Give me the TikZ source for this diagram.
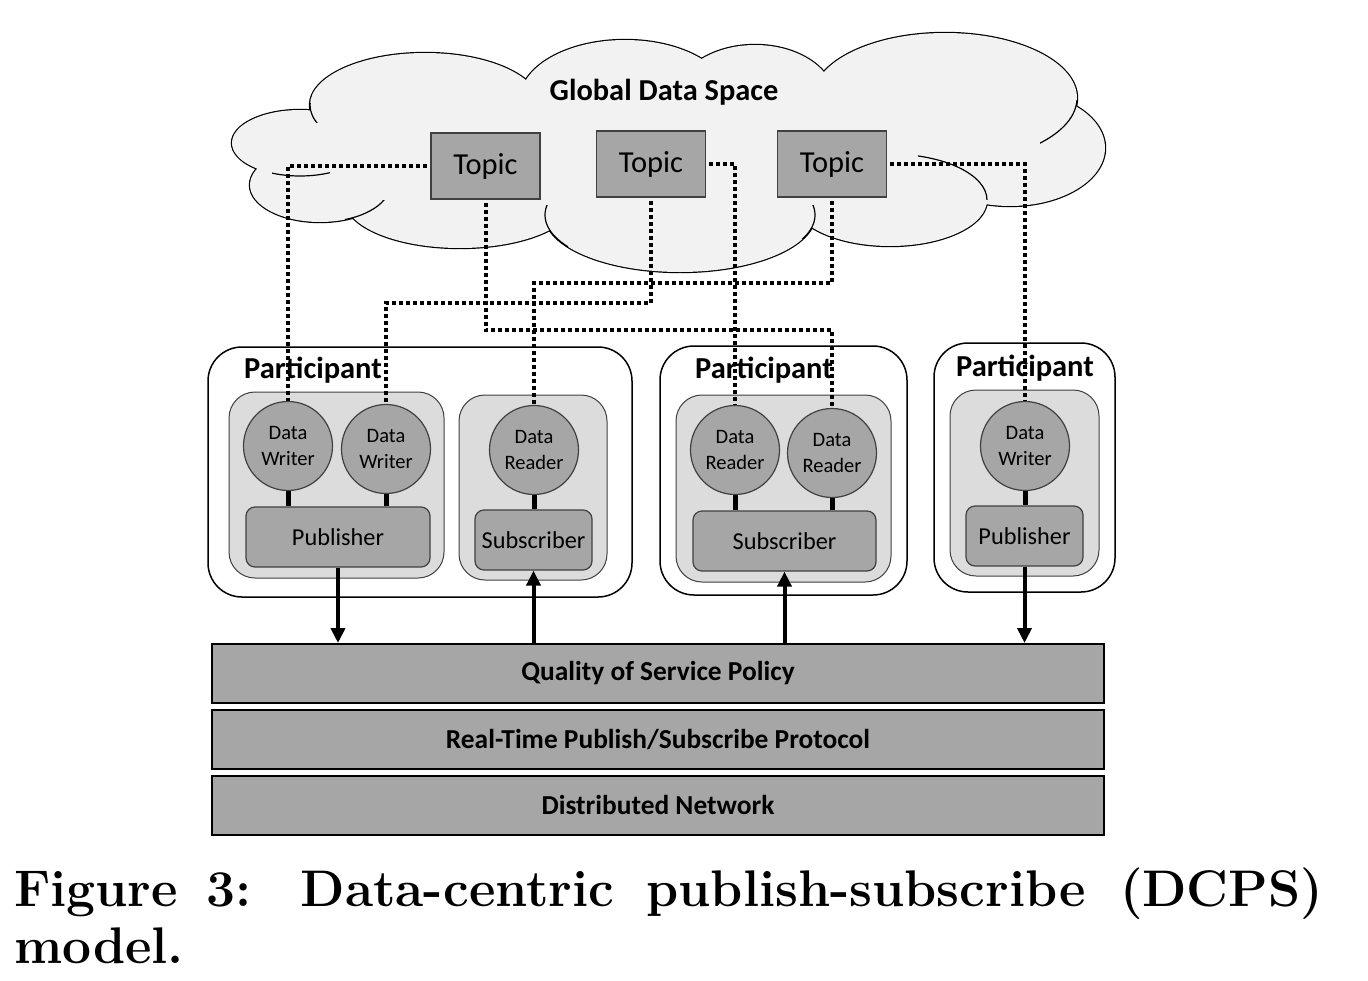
\documentclass[tikz,border=0pt]{standalone}
\usepackage{fontspec}
\setmainfont{Carlito}
\newfontfamily\capfont{Latin Modern Roman}
\usetikzlibrary{arrows.meta}
\definecolor{cloudfill}{HTML}{F2F2F2}
\definecolor{boxgray}{HTML}{A6A6A6}
\definecolor{groupgray}{HTML}{DCDCDC}
\definecolor{edgegray}{HTML}{404040}
\tikzset{
  topicbox/.style={draw=edgegray, line width=1.6pt, fill=boxgray, minimum width=109pt, minimum height=66pt, inner sep=0pt, font=\fontsize{30.5}{32}\selectfont},
  partbox/.style={draw=black, line width=1.5pt, fill=white, rounded corners=34pt, inner sep=0pt},
  groupbox/.style={draw=edgegray, line width=1pt, fill=groupgray, rounded corners=26pt, inner sep=0pt},
  entity/.style={circle, draw=edgegray, line width=1.2pt, fill=boxgray, minimum size=89pt, inner sep=0pt, align=center, font=\fontsize{20.5}{26}\selectfont},
  rolebox/.style={draw=edgegray, line width=1.2pt, fill=boxgray, rounded corners=9pt, minimum height=60pt, inner sep=0pt, font=\fontsize{24.3}{26}\selectfont},
  layer/.style={draw=black, line width=2pt, fill=boxgray, minimum width=892pt, minimum height=59pt, inner sep=0pt, font=\bfseries\fontsize{27.4}{30}\selectfont},
  partlabel/.style={inner sep=0pt, font=\bfseries\fontsize{30.5}{32}\selectfont},
  dots/.style={line width=4pt, dash pattern=on 4pt off 3pt},
  stem/.style={line width=5pt},
  flow/.style={line width=4pt, -{Triangle[length=15pt,width=14pt]}},
  cloudarc/.style={line width=1.2pt, black},
  captext/.style={anchor=base west, inner sep=0pt, font=\capfont\bfseries\fontsize{51.5}{60}\selectfont},
}
\begin{document}
\begin{tikzpicture}[x=1pt,y=-1pt]
\useasboundingbox (0,0) rectangle (1368,980);
% cloud
\def\lobes{
  (300,143) ellipse [x radius=68, y radius=33]
  (320,185) ellipse [x radius=70, y radius=37]
  (460,200) ellipse [x radius=115, y radius=48]
  (425,105) ellipse [x radius=115, y radius=52]
  (625,100) ellipse [x radius=105, y radius=60]
  (755,100) ellipse [x radius=80, y radius=55]
  (945,98) ellipse [x radius=132, y radius=65]
  (1010,148) ellipse [x radius=95, y radius=58]
  (890,200) ellipse [x radius=97, y radius=46]
  (680,215) ellipse [x radius=135, y radius=57]
}
\draw[line width=2.4pt, black] \lobes;
\fill[cloudfill] \lobes;
\fill[cloudfill] (300,143) -- (425,105) -- (625,100) -- (755,100) -- (945,98) -- (1010,148) -- (890,200) -- (680,215) -- (460,200) -- (320,185) -- cycle;
% inner cloud arcs
\begin{scope}\clip (918,140) rectangle (990,199);
  \draw[cloudarc] (890,200) ellipse [x radius=97, y radius=46];\end{scope}
\begin{scope}\clip (1040,100) rectangle (1080,145);
  \draw[cloudarc] (945,98) ellipse [x radius=132, y radius=65];\end{scope}
\begin{scope}\clip (272,160) rectangle (330,182);
  \draw[cloudarc] (300,143) ellipse [x radius=68, y radius=33];\end{scope}
\begin{scope}\clip (305,103) rectangle (320,122);
  \draw[cloudarc] (425,105) ellipse [x radius=115, y radius=52];\end{scope}
\begin{scope}\clip (345,200) rectangle (385,226);
  \draw[cloudarc] (320,185) ellipse [x radius=70, y radius=37];\end{scope}
\begin{scope}\clip (544,205) rectangle (568,250);
  \draw[cloudarc] (680,215) ellipse [x radius=135, y radius=57];\end{scope}
\begin{scope}\clip (800,205) rectangle (817,238);
  \draw[cloudarc] (680,215) ellipse [x radius=135, y radius=57];\end{scope}
\node[inner sep=0pt, font=\bfseries\fontsize{30.4}{32}\selectfont] (gds) at (664,92) {Global Data Space};
% topics
\node[topicbox] (t1) at (485.5,166) {Topic};
\node[topicbox] (t2) at (651,164) {Topic};
\node[topicbox] (t3) at (832,164) {Topic};
% participants
\node[partbox, minimum width=424pt, minimum height=250pt] (p1) at (420,472) {};
\node[partbox, minimum width=247pt, minimum height=249pt] (p2) at (783.5,470.5) {};
\node[partbox, minimum width=181pt, minimum height=249pt] (p3) at (1024.5,467.5) {};
\node[partlabel] (p1l) at (313,370) {Participant};
\node[partlabel] (p2l) at (764,370) {Participant};
\node[partlabel] (p3l) at (1025,368) {Participant};
\node[groupbox, minimum width=215pt, minimum height=186pt] (g1) at (336.5,485) {};
\node[groupbox, minimum width=148pt, minimum height=185pt] (g2) at (533,487.5) {};
\node[groupbox, minimum width=215pt, minimum height=187pt] (g3) at (783.5,488.5) {};
\node[groupbox, minimum width=149pt, minimum height=186pt] (g4) at (1024.5,483) {};
% entities
\node[entity] (dw1) at (288,446) {Data\\Writer};
\node[entity] (dw2) at (386,449) {Data\\Writer};
\node[entity] (dr1) at (534,450) {Data\\Reader};
\node[entity] (dr2) at (735,450) {Data\\Reader};
\node[entity] (dr3) at (832,453) {Data\\Reader};
\node[entity] (dw3) at (1025,446) {Data\\Writer};
\node[rolebox, minimum width=184pt] (pub1) at (338,537) {Publisher};
\node[rolebox, minimum width=117pt] (sub1) at (533.5,540) {Subscriber};
\node[rolebox, minimum width=183pt] (sub2) at (784.5,541) {Subscriber};
\node[rolebox, minimum width=117pt] (pub2) at (1024.5,536) {Publisher};
\draw[stem] (dw1.south) -- (dw1.south |- pub1.north);
\draw[stem] (dw2.south) -- (dw2.south |- pub1.north);
\draw[stem] (dr1.south) -- (dr1.south |- sub1.north);
\draw[stem] (dr2.south) -- (dr2.south |- sub2.north);
\draw[stem] (dr3.south) -- (dr3.south |- sub2.north);
\draw[stem] (dw3.south) -- (dw3.south |- pub2.north);
% layers
\node[layer] (qos) at (658,673.5) {Quality of Service Policy};
\node[layer] (rtps) at (658,739.5) {Real-Time Publish/Subscribe Protocol};
\node[layer] (net) at (658,805) {Distributed Network};
% arrows
\draw[flow] (pub1.south) -- (pub1.south |- qos.north);
\draw[flow] (sub1.south |- qos.north) -- (sub1.south);
\draw[flow] (sub2.south |- qos.north) -- (sub2.south);
\draw[flow] (pub2.south) -- (pub2.south |- qos.north);
% dotted topic links
\draw[dots] ([xshift=-3pt]t1.west) -| (dw1.north);
\draw[dots] ([yshift=-3pt]t1.south) -- (t1.south |- 0,330) -| (dr3.north);
\draw[dots] ([yshift=-3pt]t2.south) -- (t2.south |- 0,303) -| (dw2.north);
\draw[dots] ([xshift=3pt]t2.east) -| (dr2.north);
\draw[dots] ([yshift=-3pt]t3.south) -- (t3.south |- 0,283) -| (dr1.north);
\draw[dots] ([xshift=3pt]t3.east) -| (dw3.north);
% caption
\node[captext] (cap1) at (14,906)
  {\makebox[1309pt][s]{Figure\hspace{0pt plus 29fil}3:\hspace{0pt plus 50fil}Data-centric\hspace{0pt plus 33fil}publish-subscribe\hspace{0pt plus 35fil}(DCPS)}};
\node[captext] (cap2) at (14,963) {model.};
\end{tikzpicture}
\end{document}
